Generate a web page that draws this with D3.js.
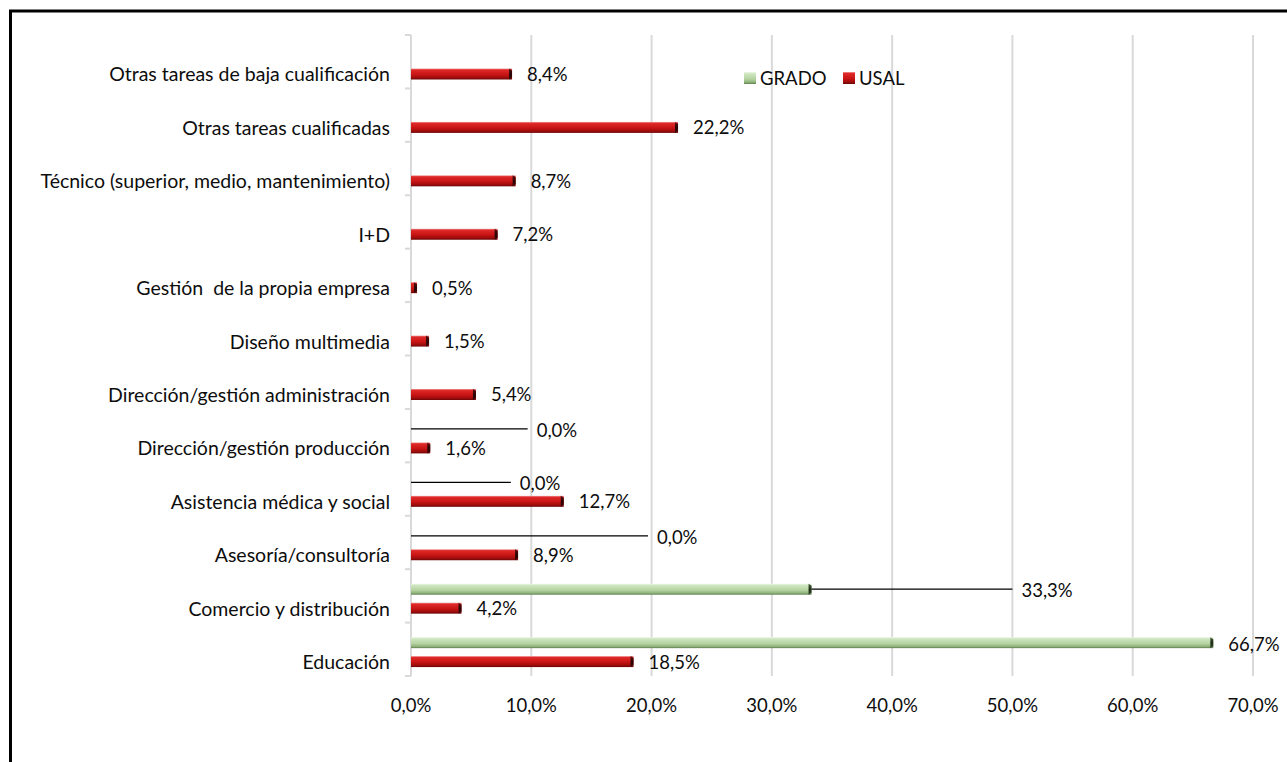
<!DOCTYPE html>
<html>
<head>
<meta charset="utf-8">
<script src="https://cdn.jsdelivr.net/npm/d3@7"></script>
<style>
  body { margin: 0; background: #fff; }
  text { font-family: Lato, "Open Sans", sans-serif; fill: #0d0d0d; white-space: pre; }
</style>
</head>
<body>
<div id="container"></div>
<script>
/* DATA */
const categories = [
  "Educación",
  "Comercio y distribución",
  "Asesoría/consultoría",
  "Asistencia médica y social",
  "Dirección/gestión producción",
  "Dirección/gestión administración",
  "Diseño multimedia",
  "Gestión  de la propia empresa",
  "I+D",
  "Técnico (superior, medio, mantenimiento)",
  "Otras tareas cualificadas",
  "Otras tareas de baja cualificación"
];
const usal = [18.5, 4.2, 8.9, 12.7, 1.6, 5.4, 1.5, 0.5, 7.2, 8.7, 22.2, 8.4];
const grado = [66.7, 33.3, 0, 0, 0, null, null, null, null, null, null, null];
const xTicks = [0, 10, 20, 30, 40, 50, 60, 70];
const seriesNames = ["GRADO", "USAL"];

// where the GRADO labels were dragged to (leader lines), in axis units
const leaderTo = {
  "Comercio y distribución": 50,
  "Asesoría/consultoría": 19.7,
  "Asistencia médica y social": 8.3,
  "Dirección/gestión producción": 9.7
};

/* CONSTANTS */
const width = 1287;
const height = 762;
const plotLeft = 411, plotRight = 1253, plotTop = 35, plotBottom = 676;
const fmt = v => v.toFixed(1).replace(".", ",") + "%";

const svg = d3.select("#container").append("svg")
  .attr("width", width)
  .attr("height", height);

/* GRADIENTS (bevel look) */
const defs = svg.append("defs");
function grad(id, stops) {
  const g = defs.append("linearGradient").attr("id", id)
    .attr("x1", 0).attr("y1", 0).attr("x2", 0).attr("y2", 1);
  stops.forEach(s => g.append("stop").attr("offset", s[0]).attr("stop-color", s[1]));
}
grad("redGrad", [[0, "#f2a0a0"], [0.12, "#e02a2a"], [0.55, "#c81414"], [0.85, "#9a0c0c"], [1, "#6a0606"]]);
grad("greenGrad", [[0, "#eef7e8"], [0.15, "#cfe6c0"], [0.6, "#b3d29f"], [0.85, "#8fb27a"], [1, "#5f7d4f"]]);
grad("redCap", [[0, "#5a1010"], [0.5, "#2a0505"], [1, "#3a0808"]]);
grad("greenCap", [[0, "#48603c"], [0.5, "#1f2b19"], [1, "#33452a"]]);

/* FRAME */
svg.append("rect")
  .attr("x", 10.5).attr("y", 11)
  .attr("width", 1400).attr("height", 900)
  .attr("fill", "none")
  .attr("stroke", "#000")
  .attr("stroke-width", 3);

/* SCALES */
const x = d3.scaleLinear().domain([0, 70]).range([plotLeft, plotRight]);
const y = d3.scaleBand()
  .domain(categories.slice().reverse())
  .range([plotTop, plotBottom]);
const ySub = d3.scaleBand()
  .domain(seriesNames)
  .range([0, y.bandwidth()])
  .paddingInner(0.42)
  .paddingOuter(0.62)
  .align(0.62);
const barH = ySub.bandwidth();

/* GRIDLINES */
svg.append("g").selectAll("line")
  .data(xTicks)
  .join("line")
  .attr("x1", d => x(d)).attr("x2", d => x(d))
  .attr("y1", plotTop).attr("y2", plotBottom)
  .attr("stroke", "#d9d9d9")
  .attr("stroke-width", 2);

/* CATEGORY AXIS TICKS */
const bounds = y.domain().map(c => y(c)).concat([plotBottom]);
svg.append("g").selectAll("line")
  .data(bounds)
  .join("line")
  .attr("x1", plotLeft - 6).attr("x2", plotLeft)
  .attr("y1", d => d).attr("y2", d => d)
  .attr("stroke", "#d9d9d9")
  .attr("stroke-width", 2);

/* X LABELS */
svg.append("g").selectAll("text")
  .data(xTicks)
  .join("text")
  .attr("x", d => x(d))
  .attr("y", 705)
  .attr("text-anchor", "middle")
  .attr("dominant-baseline", "central")
  .style("font-size", "18.5px")
  .text(d => fmt(d));

/* CATEGORY LABELS */
svg.append("g").selectAll("text")
  .data(categories)
  .join("text")
  .attr("x", 390)
  .attr("y", d => y(d) + ySub("USAL") + barH / 2)
  .attr("text-anchor", "end")
  .attr("dominant-baseline", "central")
  .style("font-size", "19.5px")
  .text(d => d);

/* BARS */
function drawBars(values, series, fill, cap) {
  const rows = categories.map((c, i) => ({ c, v: values[i] })).filter(d => d.v != null && d.v > 0);
  const g = svg.append("g");
  g.selectAll(".bar-" + series)
    .data(rows)
    .join("rect")
    .attr("x", plotLeft)
    .attr("y", d => y(d.c) + ySub(series))
    .attr("width", d => x(d.v) - plotLeft)
    .attr("height", barH)
    .attr("fill", `url(#${fill})`);
  g.selectAll(".cap-" + series)
    .data(rows)
    .join("path")
    .attr("d", d => {
      const x1 = x(d.v), y0 = y(d.c) + ySub(series), w = Math.min(3, x(d.v) - plotLeft);
      return `M${x1 - w},${y0} L${x1},${y0 + 2} L${x1},${y0 + barH - 2} L${x1 - w},${y0 + barH} Z`;
    })
    .attr("fill", `url(#${cap})`);
}
drawBars(grado, "GRADO", "greenGrad", "greenCap");
drawBars(usal, "USAL", "redGrad", "redCap");

/* USAL LABELS */
svg.append("g").selectAll("text")
  .data(categories.map((c, i) => ({ c, v: usal[i] })))
  .join("text")
  .attr("x", d => x(d.v) + 15)
  .attr("y", d => y(d.c) + ySub("USAL") + barH / 2)
  .attr("dominant-baseline", "central")
  .style("font-size", "18.5px")
  .text(d => fmt(d.v));

/* GRADO LABELS (+ leader lines) */
const gradoRows = categories.map((c, i) => ({ c, v: grado[i] })).filter(d => d.v != null);
const gl = svg.append("g");
gl.selectAll("line")
  .data(gradoRows.filter(d => leaderTo[d.c] != null))
  .join("line")
  .attr("x1", d => x(d.v)).attr("x2", d => x(leaderTo[d.c]))
  .attr("y1", d => y(d.c) + ySub("GRADO") + barH / 2)
  .attr("y2", d => y(d.c) + ySub("GRADO") + barH / 2)
  .attr("stroke", "#000")
  .attr("stroke-width", 1.2);
gl.selectAll("text")
  .data(gradoRows)
  .join("text")
  .attr("x", d => leaderTo[d.c] != null ? x(leaderTo[d.c]) + 9 : x(d.v) + 15)
  .attr("y", d => y(d.c) + ySub("GRADO") + barH / 2 + 1)
  .attr("dominant-baseline", "central")
  .style("font-size", "18.5px")
  .text(d => fmt(d.v));

/* LEGEND */
const legend = svg.append("g").attr("transform", "translate(744,72)");
const legendItems = [
  { name: "GRADO", fill: "greenGrad", dx: 0 },
  { name: "USAL", fill: "redGrad", dx: 99 }
];
const li = legend.selectAll("g")
  .data(legendItems)
  .join("g")
  .attr("transform", d => `translate(${d.dx},0)`);
li.append("rect")
  .attr("width", 12).attr("height", 12)
  .attr("fill", d => `url(#${d.fill})`);
li.append("text")
  .attr("x", 16).attr("y", 6)
  .attr("dominant-baseline", "central")
  .style("font-size", "18.5px")
  .text(d => d.name);
</script>
</body>
</html>
